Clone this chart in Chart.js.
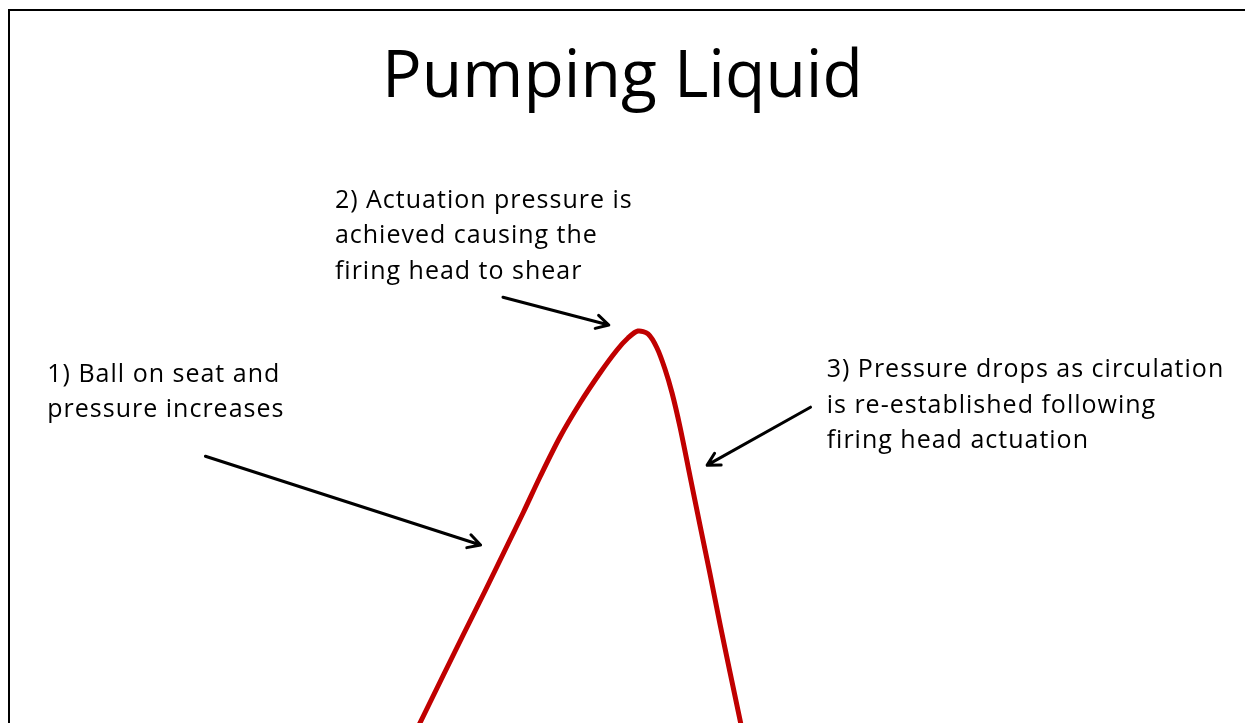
<!DOCTYPE html>
<html>
<head>
<meta charset="utf-8">
<script src="https://cdn.jsdelivr.net/npm/chart.js@4.4.1/dist/chart.umd.min.js"></script>
<style>
  html, body { margin: 0; padding: 0; background: #fff; }
  #wrap { width: 1245px; height: 723px; }
</style>
</head>
<body>
<div id="wrap"><canvas id="pump-chart" width="1245" height="723"></canvas></div>
<script>
const time = [32.77, 33.73, 35.42, 37.20, 39.00, 40.76, 42.05, 43.37, 44.98, 46.59, 48.19, 49.56, 50.44, 51.24, 52.05, 52.77, 53.41, 53.98, 54.62, 55.42, 56.22, 57.03, 57.83, 58.63, 59.44, 59.76];
const pressure = [-4.06, 0, 7.27, 14.88, 22.49, 30.10, 35.68, 41.60, 48.36, 54.11, 59.18, 63.07, 65.10, 66.28, 65.78, 63.41, 59.86, 55.80, 50.05, 41.77, 33.48, 25.19, 16.74, 8.62, 0.51, -2.87];

// Notas e setas
const noteText = [
  ["1) Ball on seat and", "pressure increases"],
  ["2) Actuation pressure is", "achieved causing the", "firing head to shear"],
  ["3) Pressure drops as circulation", "is re-established following", "firing head actuation"]
];
const noteAt = [[3.8, 57.7], [26.9, 87.1], [66.4, 58.5]];
const arrowFrom = [[16.5, 45.1], [40.4, 72.0], [65.1, 53.4]];
const arrowTo = [[38.6, 30.1], [48.9, 67.3], [56.8, 43.6]];

const notesPlugin = {
  id: 'notes',
  beforeDraw(chart) {
    const ctx = chart.ctx;
    ctx.save();
    ctx.fillStyle = '#fff';
    ctx.fillRect(0, 0, chart.width, chart.height);
    // moldura (só topo e esquerda aparecem)
    ctx.fillStyle = '#000';
    ctx.fillRect(8, 9, chart.width - 8, 2);
    ctx.fillRect(8, 9, 2, chart.height - 9);
    ctx.restore();
  },
  afterDatasetsDraw(chart) {
    const ctx = chart.ctx;
    const xs = chart.scales.x, ys = chart.scales.y;
    ctx.save();
    // setas
    ctx.strokeStyle = '#000';
    ctx.lineWidth = 3;
    ctx.lineCap = 'round';
    ctx.lineJoin = 'round';
    arrowFrom.forEach(function(a, i) {
      const x1 = xs.getPixelForValue(a[0]), y1 = ys.getPixelForValue(a[1]);
      const x2 = xs.getPixelForValue(arrowTo[i][0]), y2 = ys.getPixelForValue(arrowTo[i][1]);
      const ang = Math.atan2(y2 - y1, x2 - x1);
      const len = 14, spread = 0.5;
      ctx.beginPath();
      ctx.moveTo(x1, y1);
      ctx.lineTo(x2, y2);
      ctx.moveTo(x2 - len * Math.cos(ang - spread), y2 - len * Math.sin(ang - spread));
      ctx.lineTo(x2, y2);
      ctx.lineTo(x2 - len * Math.cos(ang + spread), y2 - len * Math.sin(ang + spread));
      ctx.stroke();
    });
    // textos
    ctx.fillStyle = '#000';
    ctx.font = '25px "Open Sans"';
    ctx.letterSpacing = '1px';
    ctx.textBaseline = 'alphabetic';
    ctx.textAlign = 'left';
    noteText.forEach(function(lines, i) {
      const x = xs.getPixelForValue(noteAt[i][0]);
      const y = ys.getPixelForValue(noteAt[i][1]);
      lines.forEach(function(t, j) {
        ctx.fillText(t, x, y + j * 35.5);
      });
    });
    ctx.restore();
  }
};

new Chart(document.getElementById('pump-chart'), {
  type: 'line',
  data: {
    datasets: [{
      label: 'Pressure',
      data: time.map(function(t, i) { return { x: t, y: pressure[i] }; }),
      borderColor: '#c00000',
      borderWidth: 5,
      pointRadius: 0,
      fill: false,
      tension: 0.3
    }]
  },
  options: {
    responsive: false,
    animation: false,
    devicePixelRatio: 1,
    layout: { padding: 0 },
    scales: {
      x: { type: 'linear', min: 0, max: 100, display: false },
      y: { type: 'linear', min: 0, max: 100, display: false }
    },
    plugins: {
      legend: { display: false },
      tooltip: { enabled: false },
      title: {
        display: true,
        text: 'Pumping Liquid',
        color: '#000',
        font: { family: 'Open Sans', size: 66, weight: 'normal', lineHeight: 1.2 },
        padding: { top: 39, bottom: 13.4 }
      }
    }
  },
  plugins: [notesPlugin]
});
</script>
</body>
</html>
